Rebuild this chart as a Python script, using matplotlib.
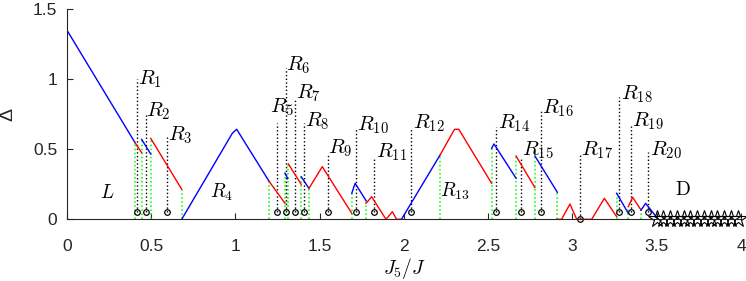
import numpy as np
import matplotlib
matplotlib.use("Agg")
import matplotlib.pyplot as plt

plt.rcParams['mathtext.fontset'] = 'cm'
plt.rcParams['font.family'] = ['Liberation Sans', 'DejaVu Sans']

# gap curve, split into pieces (x, y, colour)
seg_x = [
    [0, 0.404], [0.404, 0.443], [0.443, 0.497], [0.497, 0.681],
    [0.681, 0.981, 1.007, 1.2], [1.2, 1.294], [1.294, 1.31], [1.314, 1.39],
    [1.39, 1.436], [1.436, 1.515, 1.69], [1.69, 1.71, 1.775],
    [1.775, 1.808, 1.893, 1.931, 1.956, 1.985], [1.985, 2.214],
    [2.214, 2.30, 2.325, 2.52], [2.52, 2.534, 2.665], [2.665, 2.777],
    [2.777, 2.91], [2.91, 2.935, 2.985, 3.025, 3.114, 3.189, 3.262],
    [3.262, 3.331], [3.331, 3.357, 3.407], [3.407, 3.434, 3.509],
]
seg_y = [
    [1.35, 0.547], [0.547, 0.476], [0.571, 0.466], [0.578, 0.214],
    [0, 0.614, 0.643, 0.27], [0.27, 0.114], [0.33, 0.29], [0.395, 0.25],
    [0.304, 0.221], [0.221, 0.376, 0.043], [0.186, 0.257, 0.133],
    [0.114, 0.161, 0, 0.054, 0, 0], [0, 0.459],
    [0.459, 0.643, 0.643, 0.257], [0.507, 0.538, 0.293], [0.452, 0.226],
    [0.452, 0.193], [0, 0, 0.109, 0, 0, 0.15, 0.019],
    [0.186, 0.043], [0.09, 0.157, 0.066], [0.066, 0.114, 0],
]
seg_color = ['b', 'r', 'b', 'r', 'b', 'r', 'b', 'r', 'b', 'r', 'b', 'r', 'b',
             'r', 'b', 'r', 'b', 'r', 'b', 'r', 'b']

# green transition markers
trans_x = [0.404, 0.443, 0.497, 0.681, 1.2, 1.294, 1.314, 1.39, 1.436, 1.69,
           1.775, 2.214, 2.52, 2.665, 2.777, 2.91, 3.262, 3.331, 3.407]
trans_h = [0.55, 0.57, 0.58, 0.21, 0.27, 0.33, 0.39, 0.30, 0.22, 0.19,
           0.13, 0.46, 0.51, 0.45, 0.45, 0.19, 0.19, 0.09, 0.07]

# R_n points
r_names = [1, 2, 3, 5, 6, 7, 8, 9, 10, 11, 12, 14, 15, 16, 17, 18, 19, 20]
r_x = [0.415, 0.467, 0.595, 1.244, 1.299, 1.355, 1.405, 1.547, 1.715, 1.824,
       2.044, 2.546, 2.694, 2.813, 3.045, 3.276, 3.345, 3.45]
r_top = [1.0, 0.76, 0.6, 0.686, 1.08, 0.864, 0.686, 0.459, 0.65, 0.447,
         0.65, 0.66, 0.447, 0.78, 0.47, 0.876, 0.674, 0.483]
r_dot_y = [0.05, 0.05, 0.05, 0.05, 0.05, 0.05, 0.05, 0.05, 0.05, 0.05,
           0.05, 0.05, 0.05, 0.05, 0.0, 0.05, 0.05, 0.05]
r_lab_x = [0.42, 0.47, 0.6, 1.205, 1.3, 1.36, 1.41, 1.55, 1.72, 1.835,
           2.056, 2.56, 2.70, 2.82, 3.05, 3.285, 3.355, 3.46]
r_lab_y = [1.0, 0.77, 0.6, 0.80, 1.10, 0.90, 0.70, 0.51, 0.67, 0.48,
           0.685, 0.685, 0.495, 0.79, 0.495, 0.89, 0.70, 0.495]

# region names
reg_text = ['$L$', '$R_4$', '$R_{13}$', r'$\mathrm{D}$']
reg_x = [0.237, 0.92, 2.303, 3.658]
reg_y = [0.19, 0.19, 0.197, 0.21]

# D phase stars
star_x = [3.5, 3.54, 3.58, 3.62, 3.66, 3.70, 3.74, 3.78, 3.82, 3.86, 3.90, 3.94, 3.98]
star_y = [0] * len(star_x)

fig = plt.figure(figsize=(7.46, 2.81), dpi=100)
ax = fig.add_axes([0.0898, 0.2196, 0.9035, 0.7474])

for x, h in zip(trans_x, trans_h):
    ax.plot([x, x], [0, h], ':', color=(0, 1, 0), lw=1.1)

for x, t, d in zip(r_x, r_top, r_dot_y):
    ax.plot([x, x], [d, t], 'k:', lw=1.0)
ax.plot(r_x, r_dot_y, 'o', mfc='none', mec='k', ms=4, mew=0.9, clip_on=False)

for xs, ys, c in zip(seg_x, seg_y, seg_color):
    ax.plot(xs, ys, '-', color=c, lw=1.0)

ax.plot(star_x, star_y, '*', mfc='none', mec='k', ms=13, mew=0.8, clip_on=False)

for n, x, y in zip(r_names, r_lab_x, r_lab_y):
    ax.text(x, y, '$R_{%d}$' % n, fontsize=15, ha='left', va='center')
for t, x, y in zip(reg_text, reg_x, reg_y):
    ax.text(x, y, t, fontsize=14, ha='center', va='center')

ax.set_xlim(0, 4)
ax.set_ylim(0, 1.5)
ax.set_xticks(np.arange(0, 4.01, 0.5))
ax.set_xticklabels(['0', '0.5', '1', '1.5', '2', '2.5', '3', '3.5', '4'])
ax.set_yticks([0, 0.5, 1, 1.5])
ax.set_yticklabels(['0', '0.5', '1', '1.5'])
for s in ['top', 'right']:
    ax.spines[s].set_visible(False)
for s in ['left', 'bottom']:
    ax.spines[s].set_color('#262626')
    ax.spines[s].set_linewidth(0.8)
ax.tick_params(direction='in', length=4, width=0.8, colors='#262626',
               labelsize=12.5)
ax.tick_params(axis='x', pad=14)
ax.tick_params(axis='y', pad=7)
ax.set_xlabel('$J_5/J$', fontsize=14, va='center')
ax.xaxis.set_label_coords(0.5, -0.235)
ax.set_ylabel('Δ', fontsize=14, color='#262626')
ax.yaxis.set_label_coords(-0.075, 0.5)

fig.savefig('out.png', dpi=100)
